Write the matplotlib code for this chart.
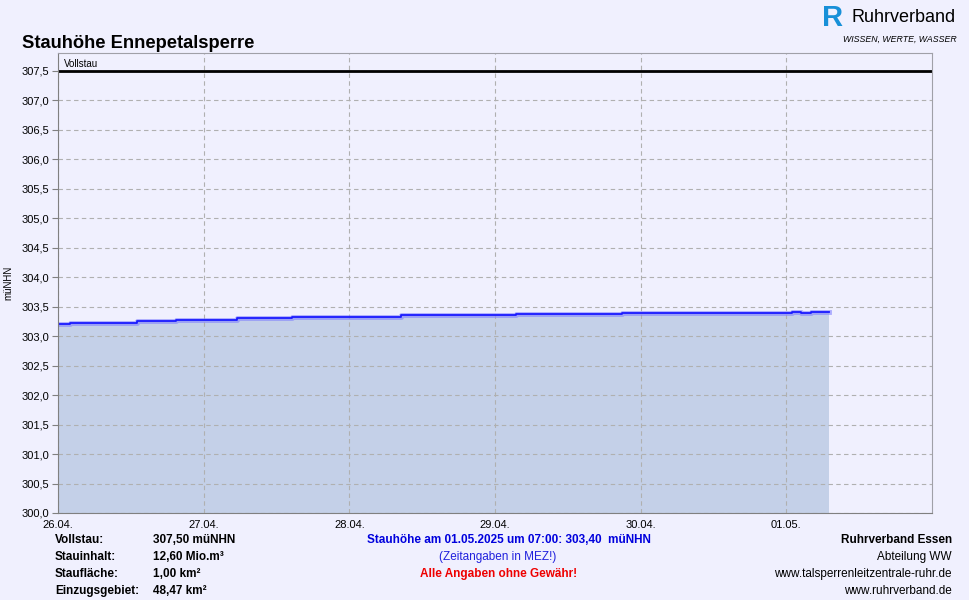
import numpy as np
import pandas as pd
import matplotlib
matplotlib.use("Agg")
import matplotlib.pyplot as plt
import matplotlib.dates as mdates
from matplotlib.ticker import FuncFormatter, MultipleLocator

plt.rcParams['font.family'] = ['Liberation Sans', 'DejaVu Sans']

# Stauhöhe readings (hours after 26.04.2025 00:00, level in müNHN)
hours = [0, 2, 7.5, 13, 19.5, 22.5, 29.5, 38.5, 44.5, 56.5, 75.5, 91.5, 93,
         121, 122.5, 124, 127]
levels = [303.20, 303.22, 303.23, 303.25, 303.27, 303.28, 303.30, 303.32, 303.33,
          303.35, 303.37, 303.38, 303.39, 303.40, 303.39, 303.40, 303.40]
vollstau = 307.5

start = pd.Timestamp("2025-04-26 00:00")
times = [start + pd.Timedelta(hours=h) for h in hours]
day_ticks = [start + pd.Timedelta(days=d) for d in range(6)]

bg = "#f0f0fe"
fig = plt.figure(figsize=(9.7, 6.0), dpi=100, facecolor=bg)
ax = fig.add_axes([0.0598, 0.145, 0.901, 0.7667], facecolor=bg)

ax.fill_between(times, 300, levels, step="post", color="#c4d0e8", lw=0)
ax.step(times, levels, where="post", color="#8080ff", lw=3.5, alpha=0.6)
ax.step(times, levels, where="post", color="#1a1aff", lw=1.3)

ax.axhline(vollstau, color="black", lw=2)
ax.text(start + pd.Timedelta(hours=1), vollstau + 0.03, "Vollstau", fontsize=7, va="bottom")

ax.set_xlim(start, start + pd.Timedelta(days=6))
ax.set_ylim(300, 307.8)
ax.yaxis.set_major_locator(MultipleLocator(0.5))
ax.yaxis.set_major_formatter(FuncFormatter(lambda v, p: f"{v:.1f}".replace(".", ",")))
ax.set_xticks(day_ticks)
ax.xaxis.set_major_formatter(mdates.DateFormatter("%d.%m."))
ax.grid(True, color="#b0b0b0", ls=(0, (4, 3)), lw=0.8)
ax.tick_params(axis="both", labelsize=8, length=4, color="#808080", pad=2)
ax.tick_params(axis="x", length=0, pad=5)
for s in ax.spines.values():
    s.set_color("#a0a0a8")
ax.spines["left"].set_color("#808080")
ax.spines["bottom"].set_color("#808080")
ax.set_ylabel("müNHN", fontsize=7, labelpad=6)

fig.text(0.023, 0.928, "Stauhöhe Ennepetalsperre", fontsize=13.2, fontweight="bold", va="center")

# logo
fig.text(822 / 970, 1 - 18 / 600, "R", fontsize=21, fontweight="bold", color="#1890d8",
         va="center", ha="left")
fig.text(852 / 970, 1 - 18 / 600, "Ruhrverband", fontsize=13, va="center", ha="left")
fig.text(957 / 970, 1 - 39 / 600, "WISSEN, WERTE, WASSER", fontsize=6.3, style="italic",
         va="center", ha="right")

# footer
rows_y = [540, 557, 574, 591]
left_labels = ["Vollstau:", "Stauinhalt:", "Staufläche:", "Einzugsgebiet:"]
left_values = ["307,50 müNHN", "12,60 Mio.m³", "1,00 km²", "48,47 km²"]
for y, lab, val in zip(rows_y, left_labels, left_values):
    fig.text(55 / 970, 1 - y / 600, lab, fontsize=8.5, fontweight="bold", va="center")
    fig.text(153 / 970, 1 - y / 600, val, fontsize=8.5, fontweight="bold", va="center")

fig.text(509 / 970, 1 - 540 / 600, "Stauhöhe am 01.05.2025 um 07:00: 303,40  müNHN",
         fontsize=8.5, fontweight="bold", color="#0000dd", ha="center", va="center")
fig.text(498 / 970, 1 - 557 / 600, "(Zeitangaben in MEZ!)", fontsize=8.5,
         color="#2020dd", ha="center", va="center")
fig.text(499 / 970, 1 - 574 / 600, "Alle Angaben ohne Gewähr!", fontsize=8.5,
         fontweight="bold", color="#ee0000", ha="center", va="center")

right_lines = ["Ruhrverband Essen", "Abteilung WW", "www.talsperrenleitzentrale-ruhr.de",
               "www.ruhrverband.de"]
for i, (y, t) in enumerate(zip(rows_y, right_lines)):
    fig.text(952 / 970, 1 - y / 600, t, fontsize=8.5, ha="right", va="center",
             fontweight="bold" if i == 0 else "normal")

fig.savefig("out.png", dpi=100, facecolor=bg)
